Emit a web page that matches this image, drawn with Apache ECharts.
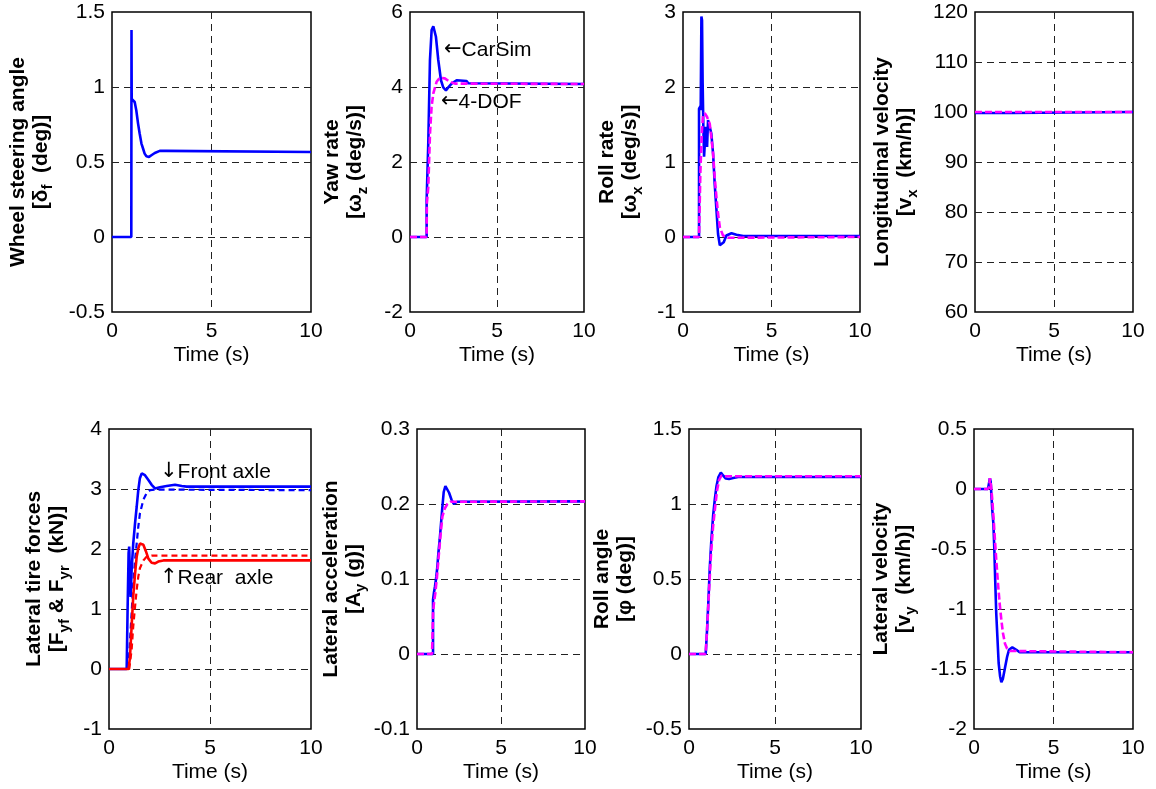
<!DOCTYPE html>
<html>
<head>
<meta charset="utf-8">
<title>CarSim vs 4-DOF vehicle model</title>
<script src="https://cdn.jsdelivr.net/npm/echarts@6/dist/echarts.min.js"></script>
<style>
  html, body { margin: 0; padding: 0; background: #fff; }
  #chart { width: 1156px; height: 789px; }
</style>
</head>
<body>
<div id="chart"></div>
<script>
// ---- time histories: [time (s), value] ----
const steerCarSim = [[0,0],[0.97,0],[0.98,1.38],[0.99,0.92],[1.06,0.91],[1.14,0.9],[1.22,0.845],[1.31,0.756],[1.39,0.69],[1.48,0.623],[1.56,0.59],[1.64,0.556],[1.73,0.538],[1.86,0.534],[1.98,0.545],[2.15,0.56],[2.4,0.574],[2.73,0.574],[2.82,0.567],[10,0.567]];

const yawCarSim = [[0,0],[0.956,0],[0.956,0.98],[1.05,2.49],[1.147,4.72],[1.243,5.52],[1.34,5.62],[1.49,5.34],[1.625,4.72],[1.78,4.18],[1.91,3.99],[2.065,3.91],[2.2,3.99],[2.39,4.09],[2.68,4.18],[3.25,4.16],[3.35,4.1],[10,4.08]];
const yaw4Dof = [[0,0],[0.956,0],[0.97,0.9],[1.05,1.33],[1.15,2.76],[1.24,3.47],[1.34,3.83],[1.53,4.14],[1.72,4.25],[2.0,4.23],[2.29,4.14],[2.58,4.09],[10,4.08]];

const rollRateCarSim = [[0,0],[0.906,0],[0.906,1.71],[0.98,1.74],[1.0,1.69],[1.04,2.94],[1.075,2.89],[1.11,2.05],[1.15,1.47],[1.19,1.07],[1.245,1.29],[1.3,1.47],[1.36,1.2],[1.415,1.56],[1.51,1.58],[1.6,1.38],[1.7,1.11],[1.79,0.71],[1.89,0.36],[1.98,0.04],[2.08,-0.11],[2.17,-0.13],[2.3,-0.07],[2.45,0.02],[2.74,0.05],[3.02,0.03],[3.4,0.013],[10,0.013]];
const rollRate4Dof = [[0,0],[0.906,0],[0.98,0.85],[1.06,1.38],[1.13,1.62],[1.23,1.65],[1.36,1.6],[1.51,1.51],[1.6,1.33],[1.7,1.11],[1.79,0.8],[1.89,0.53],[1.98,0.31],[2.08,0.13],[2.26,0.02],[2.55,-0.01],[10,0]];

const vxCarSim = [[0,99.8],[2.3,99.8],[2.32,100],[10,100]];
const vx4Dof = [[0,100],[10,100]];

const fyfCarSim = [[0,0],[0.875,0],[0.92,0.98],[0.97,1.93],[1.0,2.04],[1.04,1.43],[1.07,1.2],[1.12,1.65],[1.2,2.09],[1.29,2.43],[1.37,2.7],[1.45,2.98],[1.53,3.18],[1.62,3.26],[1.7,3.27],[1.78,3.23],[1.95,3.15],[2.11,3.07],[2.28,3.01],[2.52,3.03],[2.85,3.05],[3.27,3.07],[3.6,3.05],[3.84,3.04],[10,3.04]];
const fyf4Dof = [[0,0],[0.96,0],[1.04,0.48],[1.12,0.93],[1.2,1.43],[1.29,1.82],[1.37,2.09],[1.45,2.37],[1.53,2.59],[1.7,2.82],[1.86,2.93],[2.03,2.98],[2.28,2.99],[10,2.98]];
const fyrCarSim = [[0,0],[0.97,0],[1.04,0.2],[1.12,0.71],[1.2,1.21],[1.29,1.59],[1.37,1.87],[1.45,2.01],[1.53,2.09],[1.62,2.1],[1.7,2.07],[1.83,1.96],[1.95,1.84],[2.11,1.77],[2.28,1.76],[2.44,1.79],[2.69,1.81],[10,1.81]];
const fyr4Dof = [[0,0],[1.0,0],[1.12,0.32],[1.2,0.71],[1.29,1.04],[1.37,1.32],[1.45,1.54],[1.53,1.68],[1.7,1.81],[1.86,1.87],[2.11,1.89],[10,1.89]];

const ayCarSim = [[0,0],[0.954,0],[0.954,0.072],[1.01,0.082],[1.07,0.09],[1.15,0.103],[1.21,0.116],[1.27,0.134],[1.35,0.152],[1.43,0.174],[1.51,0.196],[1.59,0.216],[1.69,0.224],[1.79,0.223],[1.91,0.215],[2.05,0.206],[2.19,0.2],[2.39,0.203],[10,0.2035]];
const ay4Dof = [[0,0],[0.895,0],[0.954,0.054],[1.01,0.068],[1.09,0.081],[1.19,0.103],[1.29,0.13],[1.39,0.156],[1.51,0.183],[1.65,0.194],[1.81,0.2],[1.99,0.203],[10,0.2035]];

const rollCarSim = [[0,0],[0.97,0],[1.05,0.16],[1.13,0.36],[1.21,0.58],[1.3,0.76],[1.4,0.92],[1.5,1.03],[1.6,1.12],[1.71,1.18],[1.85,1.21],[1.98,1.19],[2.14,1.17],[2.33,1.167],[2.57,1.173],[2.86,1.18],[10,1.18]];
const roll4Dof = [[0,0],[0.97,0],[1.07,0.2],[1.17,0.43],[1.28,0.67],[1.4,0.85],[1.52,0.98],[1.63,1.09],[1.75,1.16],[1.89,1.19],[2.08,1.185],[10,1.185]];

const vyCarSim = [[0,0],[0.88,0],[0.96,0.014],[1.0,0.09],[1.05,0.06],[1.09,-0.04],[1.15,-0.175],[1.22,-0.29],[1.28,-0.51],[1.34,-0.79],[1.4,-1.04],[1.47,-1.23],[1.55,-1.45],[1.64,-1.56],[1.72,-1.61],[1.82,-1.58],[1.95,-1.49],[2.08,-1.4],[2.2,-1.34],[2.41,-1.32],[2.66,-1.34],[2.87,-1.36],[10,-1.36]];
const vy4Dof = [[0,0],[0.88,0],[0.96,0.02],[1.0,0.09],[1.07,0.03],[1.15,-0.09],[1.24,-0.26],[1.32,-0.43],[1.4,-0.59],[1.51,-0.79],[1.61,-0.95],[1.72,-1.09],[1.82,-1.2],[1.95,-1.29],[2.08,-1.33],[2.24,-1.35],[10,-1.36]];

// ---- axes: [min, max, step] for each panel ----
const timeAxis = [0, 10, 5];
const yTicks = [
  [-0.5, 1.5, 0.5],
  [-2, 6, 2],
  [-1, 3, 1],
  [60, 120, 10],
  [-1, 4, 1],
  [-0.1, 0.3, 0.1],
  [-0.5, 1.5, 0.5],
  [-2, 0.5, 0.5]
];

// ---- axis titles (rich text: b = normal, s = subscript) ----
const yTitles = [
  '{b|Wheel steering angle}\n{b|[δ}{s|f}{b|  (deg)]}',
  '{b|Yaw rate}\n{b|[ω}{s|z}{b| (deg/s)]}',
  '{b|Roll rate}\n{b|[ω}{s|x}{b| (deg/s)]}',
  '{b|Longitudinal velocity}\n{b|[v}{s|x}{b|  (km/h)]}',
  '{b|Lateral tire forces}\n{b|[F}{s|yf}{b| & F}{s|yr}{b|  (kN)]}',
  '{b|Lateral acceleration}\n{b|[A}{s|y}{b| (g)]}',
  '{b|Roll angle}\n{b|[φ (deg)]}',
  '{b|Lateral velocity}\n{b|[v}{s|y}{b|  (km/h)]}'
];
const xTitle = 'Time (s)';

const FONT = "'Liberation Sans', Arial, Helvetica, sans-serif";
const ARROW_FONT = "'DejaVu Sans', sans-serif";

// panel boxes in pixels
const boxes = [
  { left: 112, top: 12, width: 199, height: 300 },
  { left: 410, top: 12, width: 174, height: 300 },
  { left: 683, top: 12, width: 177, height: 300 },
  { left: 975, top: 12, width: 158, height: 300 },
  { left: 109, top: 429, width: 202, height: 300 },
  { left: 417, top: 429, width: 168, height: 300 },
  { left: 689, top: 429, width: 172, height: 300 },
  { left: 974, top: 429, width: 159, height: 300 }
];
// horizontal centre of each two-line y title
const titleX = [29.5, 344, 619, 894, 46, 342.5, 614, 892.5];

const BLUE = '#0000ff', MAGENTA = '#ff00ff', RED = '#ff0000';
const LW = 2.6;

const grid = boxes.map(b => Object.assign({
  show: true, borderColor: '#000', borderWidth: 1.5, backgroundColor: '#fff'
}, b));

const splitLine = {
  show: true, showMinLine: false, showMaxLine: false,
  lineStyle: { color: '#222', width: 1, type: [7, 5] }
};

const xAxis = boxes.map((b, i) => ({
  type: 'value', gridIndex: i,
  min: timeAxis[0], max: timeAxis[1], interval: timeAxis[2],
  axisLine: { show: false }, axisTick: { show: false },
  axisLabel: { color: '#000', fontSize: 21, fontFamily: FONT, margin: 9 },
  splitLine: splitLine,
  name: xTitle, nameLocation: 'middle', nameGap: 33,
  nameTextStyle: { color: '#000', fontSize: 21, fontFamily: FONT }
}));

const yAxis = yTicks.map((t, i) => ({
  type: 'value', gridIndex: i,
  min: t[0], max: t[1], interval: t[2],
  axisLine: { show: false }, axisTick: { show: false },
  axisLabel: { color: '#000', fontSize: 21, fontFamily: FONT, margin: 7 },
  splitLine: splitLine
}));

function line(idx, data, color, dash, width) {
  return {
    type: 'line', xAxisIndex: idx, yAxisIndex: idx, data: data,
    symbol: 'none', showSymbol: false, silent: true,
    lineStyle: { color: color, width: width || LW, type: dash || 'solid' }
  };
}

const DASH = [7, 3];
const series = [
  line(0, steerCarSim, BLUE),
  line(1, yawCarSim, BLUE),
  line(1, yaw4Dof, MAGENTA, DASH),
  line(2, rollRateCarSim, BLUE),
  line(2, rollRate4Dof, MAGENTA, DASH),
  line(3, vxCarSim, BLUE),
  line(3, vx4Dof, MAGENTA, DASH),
  line(4, fyfCarSim, BLUE),
  line(4, fyf4Dof, BLUE, [6, 4], 2.2),
  line(4, fyrCarSim, RED),
  line(4, fyr4Dof, RED, [6, 4], 2.2),
  line(5, ayCarSim, BLUE),
  line(5, ay4Dof, MAGENTA, DASH),
  line(6, rollCarSim, BLUE),
  line(6, roll4Dof, MAGENTA, DASH),
  line(7, vyCarSim, BLUE),
  line(7, vy4Dof, MAGENTA, DASH)
];

const titleRich = {
  b: { fontSize: 21, fontWeight: 'bold', fontFamily: FONT, lineHeight: 23, fill: '#000' },
  s: { fontSize: 15, fontWeight: 'bold', fontFamily: FONT, lineHeight: 10, padding: [14, 0, 0, 0], fill: '#000' }
};

const graphic = yTitles.map((txt, i) => ({
  type: 'text',
  x: titleX[i],
  y: boxes[i].top + boxes[i].height / 2,
  rotation: Math.PI / 2,
  silent: true,
  style: {
    text: txt, rich: titleRich, align: 'center', verticalAlign: 'middle',
    fontSize: 21, fontWeight: 'bold', fontFamily: FONT, fill: '#000'
  }
}));

// curve annotations
const notes = [
  { arrow: '←', text: 'CarSim', x: 444, y: 50 },
  { arrow: '←', text: '4-DOF', x: 441, y: 102 },
  { arrow: '↓', text: 'Front axle', x: 160, y: 472 },
  { arrow: '↑', text: 'Rear  axle', x: 160, y: 578 }
];
const noteRich = {
  a: { fontSize: 21, fontFamily: ARROW_FONT, fill: '#000' },
  t: { fontSize: 21, fontFamily: FONT, fill: '#000' }
};
notes.forEach(n => graphic.push({
  type: 'text', x: n.x, y: n.y, silent: true, z: 10,
  style: {
    text: '{a|' + n.arrow + '}{t|' + n.text + '}', rich: noteRich,
    fontSize: 21, fontFamily: FONT, fill: '#000', align: 'left', verticalAlign: 'middle'
  }
}));

const chart = echarts.init(document.getElementById('chart'), null, { renderer: 'canvas' });
chart.setOption({
  animation: false,
  backgroundColor: '#fff',
  grid: grid,
  xAxis: xAxis,
  yAxis: yAxis,
  series: series,
  graphic: graphic
});
</script>
</body>
</html>
